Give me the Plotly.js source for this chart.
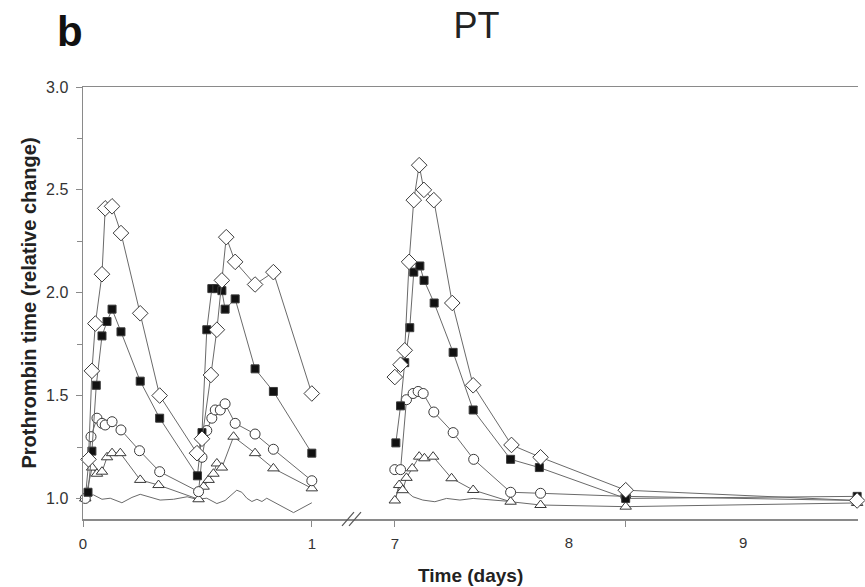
<!DOCTYPE html>
<html>
<head>
<meta charset="utf-8">
<script src="https://cdn.plot.ly/plotly-3.0.1.min.js"></script>
<style>html,body{margin:0;padding:0;background:#fff;}#chart{width:865px;height:587px;}</style>
</head>
<body>
<div id="chart"></div>
<script>
// ---- Data (days, relative change) ----
// Segment 1: days 0-1
const diamondT1 = [0.024, 0.039, 0.054, 0.083, 0.097, 0.127, 0.166, 0.25, 0.335, 0.498, 0.52, 0.559, 0.585, 0.607, 0.626, 0.665, 0.752, 0.832, 1.0];
const diamondV1 = [1.19, 1.62, 1.85, 2.09, 2.41, 2.42, 2.29, 1.90, 1.50, 1.22, 1.29, 1.60, 1.82, 2.06, 2.27, 2.15, 2.04, 2.10, 1.51];
const squareT1 = [0.022, 0.039, 0.058, 0.083, 0.105, 0.127, 0.166, 0.25, 0.335, 0.50, 0.52, 0.541, 0.563, 0.585, 0.607, 0.621, 0.665, 0.752, 0.832, 1.0];
const squareV1 = [1.03, 1.23, 1.55, 1.79, 1.86, 1.92, 1.81, 1.57, 1.39, 1.11, 1.32, 1.82, 2.02, 2.02, 2.01, 1.92, 1.97, 1.63, 1.52, 1.22];
const circleT1 = [0.01, 0.035, 0.061, 0.083, 0.097, 0.127, 0.166, 0.247, 0.335, 0.505, 0.52, 0.541, 0.563, 0.578, 0.6, 0.621, 0.665, 0.752, 0.832, 1.0];
const circleV1 = [1.0, 1.30, 1.39, 1.365, 1.357, 1.373, 1.333, 1.232, 1.13, 1.033, 1.20, 1.33, 1.39, 1.43, 1.43, 1.46, 1.365, 1.313, 1.239, 1.086];
const triT1 = [0.01, 0.04, 0.061, 0.083, 0.105, 0.127, 0.163, 0.25, 0.33, 0.505, 0.527, 0.549, 0.57, 0.585, 0.607, 0.658, 0.752, 0.832, 1.0];
const triV1 = [1.0, 1.15, 1.12, 1.13, 1.20, 1.22, 1.22, 1.09, 1.065, 0.996, 1.057, 1.09, 1.12, 1.17, 1.15, 1.30, 1.22, 1.146, 1.049];
const ctrlT1 = [0.017, 0.046, 0.083, 0.119, 0.17, 0.214, 0.25, 0.286, 0.337, 0.396, 0.455, 0.498, 0.541, 0.585, 0.621, 0.672, 0.694, 0.716, 0.738, 0.76, 0.782, 0.803, 0.847, 0.92, 1.0];
const ctrlV1 = [1.012, 1.017, 0.996, 1.001, 0.979, 1.005, 1.02, 1.008, 0.992, 0.996, 1.008, 0.996, 1.001, 0.975, 0.99, 1.04, 1.03, 1.001, 0.985, 0.996, 0.985, 1.001, 0.976, 0.931, 0.979];

// Segment 2: days 7-9.7
const diamondT2 = [7.0, 7.033, 7.057, 7.082, 7.109, 7.14, 7.167, 7.224, 7.33, 7.45, 7.67, 7.837, 8.326, 9.655];
const diamondV2 = [1.59, 1.65, 1.72, 2.15, 2.45, 2.62, 2.50, 2.45, 1.95, 1.55, 1.26, 1.20, 1.04, 0.99];
const squareT2 = [7.006, 7.033, 7.057, 7.086, 7.109, 7.144, 7.168, 7.226, 7.335, 7.45, 7.665, 7.83, 8.326, 9.655];
const squareV2 = [1.27, 1.45, 1.66, 1.83, 2.10, 2.13, 2.06, 1.95, 1.71, 1.43, 1.19, 1.15, 1.00, 1.01];
const circleT2 = [7.0, 7.033, 7.067, 7.105, 7.134, 7.163, 7.224, 7.335, 7.453, 7.665, 7.837, 8.326, 9.655];
const circleV2 = [1.14, 1.14, 1.48, 1.51, 1.52, 1.51, 1.42, 1.32, 1.19, 1.03, 1.025, 1.01, 0.99];
const triT2 = [7.0, 7.025, 7.045, 7.067, 7.1, 7.14, 7.17, 7.22, 7.326, 7.45, 7.665, 7.837, 8.326, 9.655];
const triV2 = [0.99, 1.065, 1.04, 1.10, 1.146, 1.203, 1.195, 1.203, 1.098, 1.041, 0.984, 0.968, 0.96, 0.978];
const ctrlT2 = [7.005, 7.03, 7.06, 7.104, 7.161, 7.23, 7.297, 7.374, 7.45, 7.665];
const ctrlV2 = [1.0, 1.08, 1.04, 1.008, 0.992, 0.984, 1.0, 0.992, 1.0, 0.985];

// Tick labels
const yTicks = [1.0, 1.5, 2.0, 2.5, 3.0];
const yMinor = [1.25, 1.75, 2.25, 2.75];
const x1Ticks = [0, 1];
const x2Labels = [7, 8, 9];
const x2TickMarks = [7, 8.326];

const LINE = '#6a6a6a';
const EDGE = '#3a3a3a';
const AX = '#8a8a8a';
const FONT = 'Liberation Sans, Arial, sans-serif';

function mk(x, y, xa, sym, fill, size, markers) {
  const t = {x: x, y: y, xaxis: xa, yaxis: 'y', type: 'scatter',
    mode: markers ? 'lines+markers' : 'lines',
    line: {color: LINE, width: 1}, showlegend: false, hoverinfo: 'skip', cliponaxis: false};
  if (markers) t.marker = {symbol: sym, size: size, color: fill, line: {color: EDGE, width: 1}};
  return t;
}

const data = [
  mk(ctrlT1, ctrlV1, 'x', null, null, 0, false),
  mk(ctrlT2, ctrlV2, 'x2', null, null, 0, false),
  mk(triT1, triV1, 'x', 'triangle-up', '#fff', 10, true),
  mk(triT2, triV2, 'x2', 'triangle-up', '#fff', 10, true),
  mk(circleT1, circleV1, 'x', 'circle', '#fff', 10, true),
  mk(circleT2, circleV2, 'x2', 'circle', '#fff', 10, true),
  mk(squareT1, squareV1, 'x', 'square', '#111', 8, true),
  mk(squareT2, squareV2, 'x2', 'square', '#111', 8, true),
  mk(diamondT1, diamondV1, 'x', 'diamond', '#fff', 12, true),
  mk(diamondT2, diamondV2, 'x2', 'diamond', '#fff', 12, true),
  // invisible carrier so the label-only axis x3 (tick labels 8, 9) is drawn
  {x: [x2Labels[0]], y: [2], xaxis: 'x3', yaxis: 'y', type: 'scatter', mode: 'markers',
    marker: {opacity: 0}, showlegend: false, hoverinfo: 'skip'}
];

const split = 0.3484;
const layout = {
  width: 865, height: 587,
  margin: {l: 83, r: 7, t: 87, b: 68},
  paper_bgcolor: '#fff', plot_bgcolor: '#fff',
  font: {family: FONT, color: '#333'},
  title: {text: 'PT', font: {family: FONT, size: 36, color: '#222'}, xref: 'container', yref: 'container', x: 0.551, y: 0.957, xanchor: 'center', yanchor: 'middle'},
  xaxis: {domain: [0, split], range: [0, 1.18], anchor: 'y', tickvals: x1Ticks, ticktext: x1Ticks.map(String),
    ticks: 'outside', ticklen: 6, tickcolor: AX, showline: true, linecolor: AX, linewidth: 1.5, mirror: true,
    showgrid: false, zeroline: false, tickfont: {size: 15, color: '#333'}, ticklabelstandoff: 4},
  xaxis2: {domain: [split, 1], range: [6.76, 9.66], anchor: 'y', tickvals: x2TickMarks, ticktext: ['7', ''],
    ticks: 'outside', ticklen: 6, tickcolor: AX, showline: true, linecolor: AX, linewidth: 1.5, mirror: true,
    showgrid: false, zeroline: false, tickfont: {size: 15, color: '#333'}, ticklabelstandoff: 4},
  xaxis3: {domain: [split, 1], range: [6.76, 9.66], anchor: 'y', overlaying: 'x2', side: 'bottom',
    tickvals: x2Labels.slice(1), ticktext: x2Labels.slice(1).map(String),
    ticks: 'outside', ticklen: 6, tickcolor: 'rgba(0,0,0,0)', showline: false, showgrid: false, zeroline: false,
    tickfont: {size: 15, color: '#333'}, ticklabelstandoff: 4},
  yaxis: {range: [0.9, 3.0], anchor: 'x', tickvals: yTicks, ticktext: yTicks.map(v => v.toFixed(1)),
    ticks: 'outside', ticklen: 6, tickcolor: AX, showline: true, linecolor: AX, linewidth: 1.5,
    minor: {tickvals: yMinor, ticks: 'outside', ticklen: 5, tickcolor: AX, showgrid: false},
    showgrid: false, zeroline: false, tickfont: {size: 16, color: '#333'}, ticklabelstandoff: 4,
    title: {text: '<b>Prothrombin time (relative change)</b>', font: {size: 20, color: '#222'}, standoff: 4}},
  yaxis2: {range: [0.9, 3.0], anchor: 'x2', overlaying: 'y', side: 'right', showline: true, linecolor: AX, linewidth: 1.5,
    ticks: '', showticklabels: false, showgrid: false, zeroline: false},
  annotations: [
    {text: '<b>b</b>', xref: 'paper', yref: 'paper', x: (70 - 83) / 775, y: (519 - 31) / 432, xanchor: 'center', yanchor: 'middle',
      showarrow: false, font: {family: FONT, size: 42, color: '#111'}},
    {text: '<b>Time (days)</b>', xref: 'paper', yref: 'paper', x: (470 - 83) / 775, y: (519 - 575) / 432, xanchor: 'center', yanchor: 'middle',
      showarrow: false, font: {family: FONT, size: 19, color: '#222'}}
  ],
  shapes: [
    {type: 'line', xref: 'paper', yref: 'paper', x0: (342 - 83) / 775, y0: -0.016, x1: (354 - 83) / 775, y1: 0.016, line: {color: '#555', width: 1.2}},
    {type: 'line', xref: 'paper', yref: 'paper', x0: (349 - 83) / 775, y0: -0.016, x1: (361 - 83) / 775, y1: 0.016, line: {color: '#555', width: 1.2}}
  ]
};

Plotly.newPlot('chart', data, layout, {staticPlot: true, displayModeBar: false});
</script>
</body>
</html>
